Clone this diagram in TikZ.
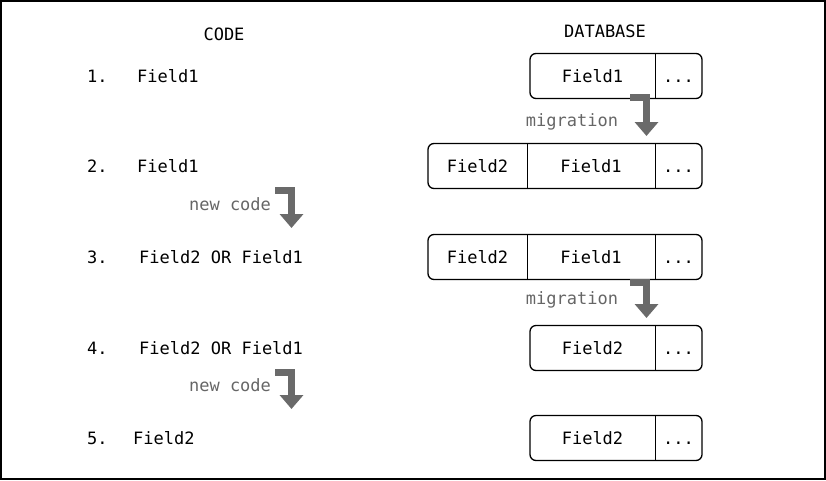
\documentclass[tikz,border=0pt]{standalone}
\usepackage{fontspec}
\setmonofont{DejaVu Sans Mono}
\usetikzlibrary{arrows.meta}
\definecolor{arrowgray}{HTML}{6A6A6A}
\definecolor{labelgray}{HTML}{666666}
\tikzset{
  x=1pt, y=-1pt,
  txt/.style={font=\ttfamily\fontsize{17}{20}\selectfont, inner sep=0pt, text=black, text height=12pt, text depth=0pt},
  lbl/.style={txt, anchor=west},
  arrlbl/.style={txt, text=labelgray},
  dbbox/.style={draw, rounded corners=6pt, line width=1.3pt, inner sep=0pt, minimum height=45pt},
  cell/.style={txt, minimum height=45pt},
  divider/.style={line width=0.9pt},
  bentarrow/.style={draw=arrowgray, line width=7pt, -{Triangle[width=23pt,length=14pt]}},
}
\begin{document}
\begin{tikzpicture}
\useasboundingbox (0,0) rectangle (826,480);
\draw[line width=2pt] (1,1) rectangle (825,479);

\node[txt] (code) at (224,34) {CODE};
\node[txt] (db) at (605,31) {DATABASE};

% left column
\node[lbl] (n1) at (87,76) {1.};
\node[lbl] (c1) at (137,76) {Field1};
\node[lbl] (n2) at (87,166) {2.};
\node[lbl] (c2) at (137,166) {Field1};
\node[lbl] (n3) at (87,257) {3.};
\node[lbl] (c3) at (139,257) {Field2 OR Field1};
\node[lbl] (n4) at (87,348) {4.};
\node[lbl] (c4) at (139,348) {Field2 OR Field1};
\node[lbl] (n5) at (87,438) {5.};
\node[lbl] (c5) at (133,438) {Field2};

% row 1
\node[dbbox, minimum width=172pt] (b1) at (616,76) {};
\node[cell, minimum width=125pt] (b1a) at (592.5,76) {Field1};
\node[cell] (b1d) at (678.5,76) {...};
\draw[divider] (b1a.north east) -- (b1a.south east);

% row 2
\node[dbbox, minimum width=274pt] (b2) at (565,166) {};
\node[cell, minimum width=99pt] (b2a) at (477.5,166) {Field2};
\node[cell, minimum width=128pt] (b2b) at (591,166) {Field1};
\node[cell] (b2d) at (678.5,166) {...};
\draw[divider] (b2a.north east) -- (b2a.south east);
\draw[divider] (b2b.north east) -- (b2b.south east);

% row 3
\node[dbbox, minimum width=274pt] (b3) at (565,257) {};
\node[cell, minimum width=99pt] (b3a) at (477.5,257) {Field2};
\node[cell, minimum width=128pt] (b3b) at (591,257) {Field1};
\node[cell] (b3d) at (678.5,257) {...};
\draw[divider] (b3a.north east) -- (b3a.south east);
\draw[divider] (b3b.north east) -- (b3b.south east);

% row 4
\node[dbbox, minimum width=172pt] (b4) at (616,348) {};
\node[cell, minimum width=125pt] (b4a) at (592.5,348) {Field2};
\node[cell] (b4d) at (678.5,348) {...};
\draw[divider] (b4a.north east) -- (b4a.south east);

% row 5
\node[dbbox, minimum width=172pt] (b5) at (616,438) {};
\node[cell, minimum width=125pt] (b5a) at (592.5,438) {Field2};
\node[cell] (b5d) at (678.5,438) {...};
\draw[divider] (b5a.north east) -- (b5a.south east);

% arrows
\coordinate (m1s) at (630,97);
\coordinate (m1e) at (646.5,136);
\draw[bentarrow] (m1s) -| (m1e);
\node[arrlbl] (m1l) at (572,120) {migration};

\coordinate (m2s) at (630,282);
\coordinate (m2e) at (646.5,318);
\draw[bentarrow] (m2s) -| (m2e);
\node[arrlbl] (m2l) at (572,298) {migration};

\coordinate (k1s) at (275,190);
\coordinate (k1e) at (291.5,228);
\draw[bentarrow] (k1s) -| (k1e);
\node[arrlbl] (k1l) at (230,204) {new code};

\coordinate (k2s) at (275,372);
\coordinate (k2e) at (291.5,409);
\draw[bentarrow] (k2s) -| (k2e);
\node[arrlbl] (k2l) at (230,385) {new code};
\end{tikzpicture}
\end{document}
